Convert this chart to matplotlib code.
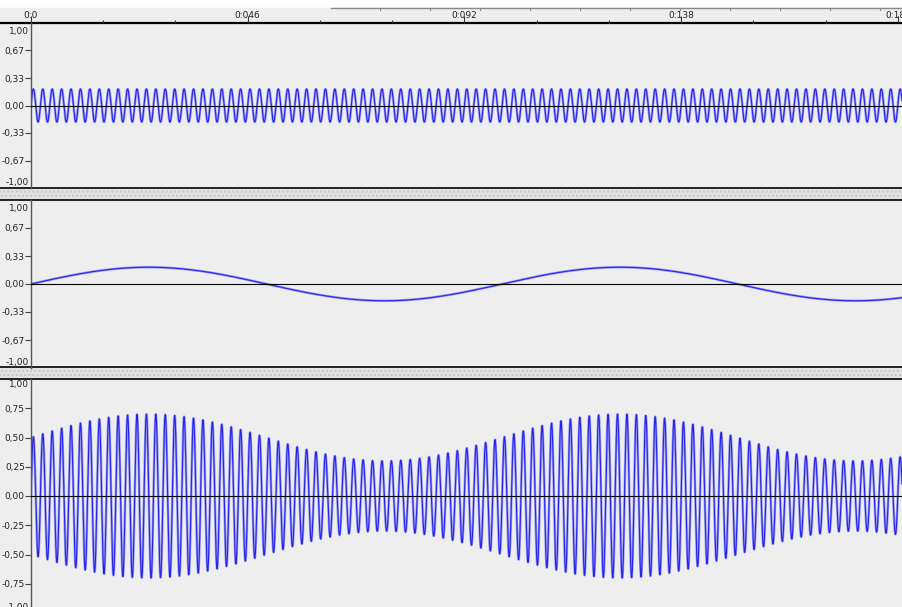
import numpy as np
import matplotlib.pyplot as plt
from matplotlib.patches import Rectangle
import matplotlib.transforms as mtransforms

# signal parameters
sample_rate = 44100
duration = 0.19
carrier_freq = 500      # Hz, top track
carrier_amp = 0.2
mod_freq = 10           # Hz, middle track
mod_amp = 0.2
am_base = 0.5           # bottom track = (am_base + middle) * carrier

ruler_ticks = [0.0, 0.046, 0.092, 0.138, 0.184]
ruler_labels = ['0:0', '0:046', '0:092', '0:138', '0:184']

ticks_small = [0.67, 0.33, 0.0, -0.33, -0.67]
labels_small = ['0,67', '0,33', '0,00', '-0,33', '-0,67']
ticks_big = [0.75, 0.5, 0.25, 0.0, -0.25, -0.5, -0.75]
labels_big = ['0,75', '0,50', '0,25', '0,00', '-0,25', '-0,50', '-0,75']

t = np.arange(0, duration, 1 / sample_rate)
top = carrier_amp * np.sin(2 * np.pi * carrier_freq * t)
middle = mod_amp * np.sin(2 * np.pi * mod_freq * t)
bottom = (am_base + middle) * np.sin(2 * np.pi * carrier_freq * t)

W, H = 902, 607
BG = '#eeeeee'
X0 = 31                       # pixel where t = 0
PX_PER_S = 216.7 / 0.046
FS = 6.5

fig = plt.figure(figsize=(W / 100, H / 100), dpi=100)
fig.patch.set_facecolor(BG)


def px_axes(x0, y0, x1, y1, **kw):
    return fig.add_axes([x0 / W, 1 - y1 / H, (x1 - x0) / W, (y1 - y0) / H], **kw)


# window chrome, in pixel coordinates
bg = px_axes(0, 0, W, H, zorder=0)
bg.set_xlim(0, W)
bg.set_ylim(H, 0)
bg.axis('off')
bg.add_patch(Rectangle((0, 0), W, 8, color='white'))
bg.add_patch(Rectangle((0, 8), W, 15, color=BG))
bg.plot([331, W], [8, 8], color='#888888', lw=1)
for x in range(380, W, 50):
    bg.plot([x, x], [8, 10], color='#888888', lw=0.8)
bg.plot([0, W], [23, 23], color='black', lw=1.6)
for y0, y1 in [(188, 200), (367, 379)]:
    bg.add_patch(Rectangle((0, y0 + 1), W, y1 - y0 - 2, facecolor='#e2e2e2',
                           edgecolor='#c4c4c4', hatch='....', lw=0))
    bg.plot([0, W], [y0, y0], color='#222222', lw=1.4)
    bg.plot([0, W], [y1, y1], color='#222222', lw=1.4)

xmax = (W - X0) / PX_PER_S

# ruler
ruler = px_axes(X0, 8, W, 23, facecolor='none')
ruler.set_xlim(0, xmax)
ruler.set_ylim(0, 1)
for s in ruler.spines.values():
    s.set_visible(False)
ruler.set_yticks([])
ruler.set_xticks(ruler_ticks)
ruler.set_xticks(np.arange(0, xmax, 0.046 / 3), minor=True)
ruler.set_xticklabels([])
ruler.tick_params(axis='x', which='major', direction='in', length=5, width=0.8, color='#333333')
ruler.tick_params(axis='x', which='minor', direction='in', length=2, width=0.8, color='#333333')
for x, lab in zip(ruler_ticks, ruler_labels):
    ruler.text(x, 0.52, lab, ha='center', va='center', fontsize=FS, color='#222222', clip_on=False)


def track(y0, y1, data, ticks, labels, top_off):
    ax = px_axes(X0, y0, W, y1, facecolor='none')
    ax.set_xlim(0, xmax)
    ax.set_ylim(-1, 1)
    for k in ['top', 'right', 'bottom']:
        ax.spines[k].set_visible(False)
    ax.spines['left'].set_color('#555555')
    ax.spines['left'].set_linewidth(1)
    ax.set_xticks([])
    ax.set_yticks(ticks)
    ax.set_yticklabels(labels)
    ax.tick_params(axis='y', direction='out', length=4, width=0.8, color='#444444',
                   labelsize=FS, labelcolor='#222222', pad=0.5)
    ax.plot(t, data, color='#9b9bf0', lw=1.8, zorder=1)
    ax.plot(t, data, color='#2424ee', lw=0.8, zorder=2)
    ax.axhline(0, color='black', lw=0.8, zorder=3)
    tr = mtransforms.offset_copy(ax.transData, fig=fig, x=-2, y=-top_off, units='dots')
    ax.text(0, 1, '1,00', transform=tr, ha='right', va='top', fontsize=FS, color='#222222')
    tr = mtransforms.offset_copy(ax.transData, fig=fig, x=-2, y=1, units='dots')
    ax.text(0, -1, '-1,00', transform=tr, ha='right', va='bottom', fontsize=FS, color='#222222')
    return ax


track(23, 188, top, ticks_small, labels_small, 4)
track(200, 368, middle, ticks_small, labels_small, 4)
track(379, 613, bottom, ticks_big, labels_big, 1)

fig.savefig('out.png', dpi=100, facecolor=fig.get_facecolor())
